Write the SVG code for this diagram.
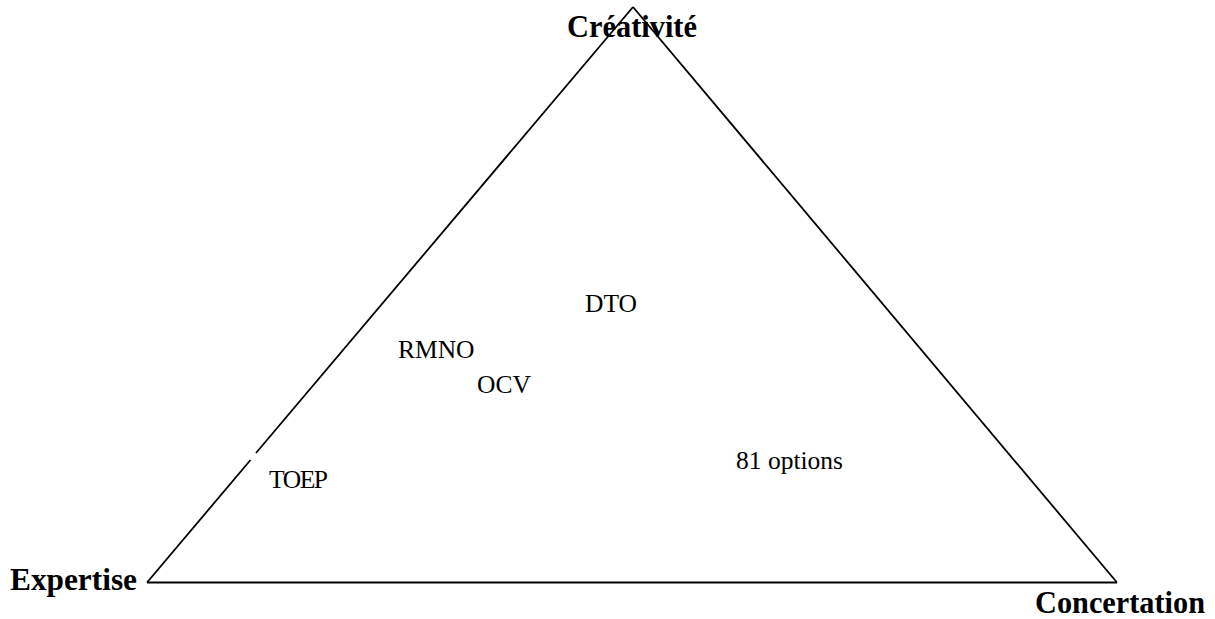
<svg xmlns="http://www.w3.org/2000/svg" width="1215" height="619" viewBox="0 0 1215 619">
  <style>
    .edge { stroke: #000; stroke-width: 1.8; fill: none; stroke-linecap: butt; }
    .pole { font-family: "Liberation Serif", "Times New Roman", serif; font-weight: bold; font-size: 30.5px; fill: #000; }
    .item { font-family: "Liberation Serif", "Times New Roman", serif; font-size: 25.5px; fill: #000; }
  </style>
  <rect width="1215" height="619" fill="#fff"/>

  <!-- triangle sides -->
  <g id="connectors">
    <line class="edge" x1="633" y1="7" x2="256" y2="453"/>
    <line class="edge" x1="250.5" y1="460" x2="147" y2="582.5"/>
    <line class="edge" x1="147" y1="582.5" x2="1117" y2="582.5"/>
    <line class="edge" x1="1117" y1="582.5" x2="633" y2="7"/>
  </g>

  <!-- poles at the corners -->
  <g id="creativite"><text class="pole" x="567" y="37" textLength="130" lengthAdjust="spacingAndGlyphs">Créativité</text></g>
  <g id="expertise"><text class="pole" x="10" y="590" textLength="127" lengthAdjust="spacingAndGlyphs">Expertise</text></g>
  <g id="concertation"><text class="pole" x="1035" y="613" textLength="170" lengthAdjust="spacingAndGlyphs">Concertation</text></g>

  <!-- positioned items -->
  <g id="dto"><text class="item" x="585" y="312">DTO</text></g>
  <g id="rmno"><text class="item" x="398" y="358">RMNO</text></g>
  <g id="ocv"><text class="item" x="477" y="393">OCV</text></g>
  <g id="toep"><text class="item" x="269" y="488" textLength="59" lengthAdjust="spacing">TOEP</text></g>
  <g id="options"><text class="item" x="736" y="469">81 options</text></g>
</svg>
